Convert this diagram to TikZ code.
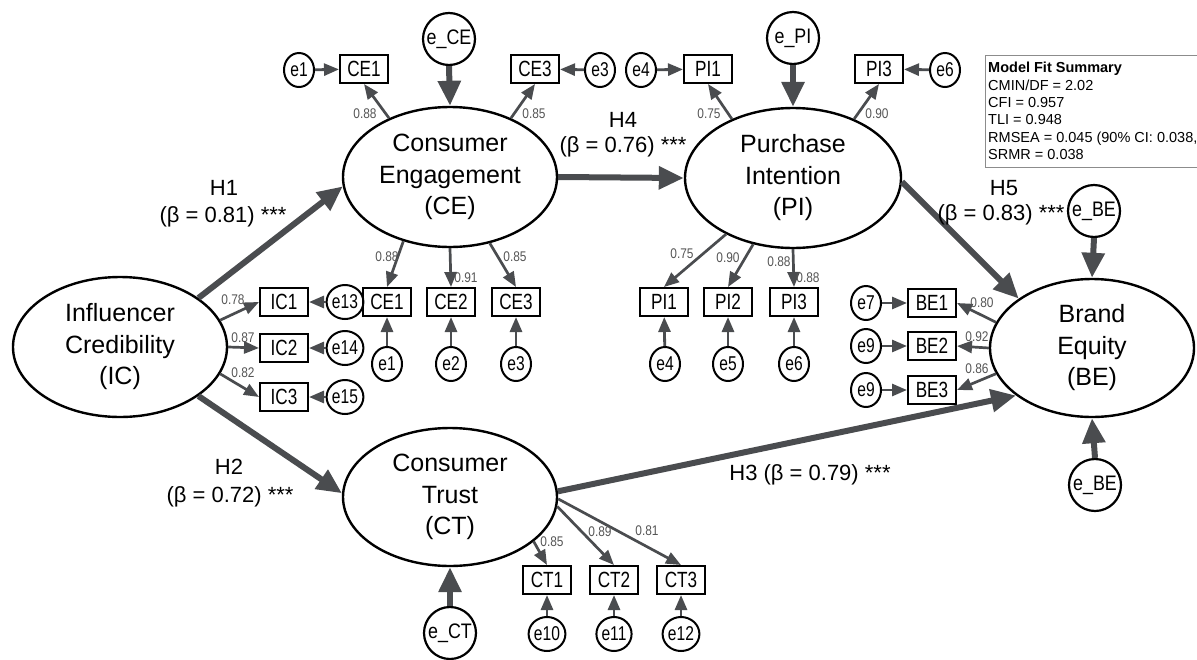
\documentclass[tikz,border=0pt]{standalone}
\usepackage{fontspec}
\setmainfont{Liberation Sans}
\newfontfamily\narrowsans{Liberation Sans}[FakeStretch=0.85]
\newfontfamily\condensedsans{Liberation Sans}[FakeStretch=0.78]
\usetikzlibrary{arrows.meta,shapes.geometric}

\definecolor{arrowgrey}{HTML}{4A4C4F}
\definecolor{labelgrey}{HTML}{555555}
\definecolor{framegrey}{HTML}{8C8C8C}

\tikzset{
  latent/.style={ellipse, draw=black, line width=2.4pt, inner sep=0pt,
    minimum width=214pt, minimum height=140pt, align=center,
    font=\fontsize{25}{31.5}\selectfont},
  indicator/.style={rectangle, draw=black, line width=2pt, inner sep=0pt,
    minimum width=48pt, minimum height=28pt,
    font=\condensedsans\fontsize{22}{22}\selectfont},
  errsmall/.style={ellipse, draw=black, line width=2pt, inner sep=0pt,
    minimum width=30pt, minimum height=34pt,
    font=\condensedsans\fontsize{20}{20}\selectfont},
  errlarge/.style={circle, draw=black, line width=2.2pt, inner sep=0pt,
    minimum size=52pt, font=\narrowsans\fontsize{21}{21}\selectfont},
  structpath/.style={draw=arrowgrey, line width=6pt,
    -{Triangle[length=25pt,width=22pt]}},
  loadpath/.style={draw=arrowgrey, line width=2.7pt,
    -{Triangle[length=15pt,width=12pt]}},
  errpath/.style={draw=arrowgrey, line width=2.8pt,
    -{Triangle[length=15pt,width=12pt]}},
  coef/.style={text=labelgrey, font=\narrowsans\fontsize{14}{14}\selectfont,
    inner sep=0pt},
  hyp/.style={font=\fontsize{22}{22}\selectfont, inner sep=0pt},
}

\begin{document}
\begin{tikzpicture}[x=1pt,y=-1pt]
\useasboundingbox (0,0) rectangle (1197,659);

% latent constructs
\node[latent] (IC) at (120,347) {Influencer\\Credibility\\(IC)};
\node[latent] (CE) at (450,177) {Consumer\\Engagement\\(CE)};
\node[latent, minimum width=216pt] (PI) at (793,178) {Purchase\\Intention\\(PI)};
\node[latent, minimum height=138pt] (CT) at (450,497) {Consumer\\Trust\\(CT)};
\node[latent, minimum width=204pt, minimum height=138pt] (BE) at (1092,348) {Brand\\Equity\\(BE)};

% disturbance terms
\node[errlarge] (eCE) at (449,39) {e\_CE};
\node[errlarge] (ePI) at (793,38) {e\_PI};
\node[errlarge] (eBEt) at (1094,211) {e\_BE};
\node[errlarge] (eBEb) at (1095,485) {e\_BE};
\node[errlarge] (eCT) at (450,633) {e\_CT};

% CE indicators (upper row)
\node[indicator] (CE1t) at (364,69) {CE1};
\node[indicator] (CE3t) at (535,69) {CE3};
\node[errsmall] (e1t) at (299,70) {e1};
\node[errsmall] (e3t) at (600,70) {e3};

% PI indicators (upper row)
\node[indicator] (PI1t) at (708,69) {PI1};
\node[indicator] (PI3t) at (879,69) {PI3};
\node[errsmall] (e4t) at (641,70) {e4};
\node[errsmall] (e6t) at (945,70) {e6};

% CE indicators (lower row)
\node[indicator] (CE1b) at (387,302) {CE1};
\node[indicator] (CE2b) at (451,302) {CE2};
\node[indicator] (CE3b) at (516,302) {CE3};
\node[errsmall] (e1b) at (387,364) {e1};
\node[errsmall] (e2b) at (451,364) {e2};
\node[errsmall] (e3b) at (516,364) {e3};

% IC indicators
\node[indicator] (IC1) at (284,302) {IC1};
\node[indicator] (IC2) at (284,348) {IC2};
\node[indicator] (IC3) at (284,397) {IC3};
\node[errsmall] (e13) at (345,302) {e13};
\node[errsmall] (e14) at (345,348) {e14};
\node[errsmall] (e15) at (345,397) {e15};

% PI indicators (lower row)
\node[indicator] (PI1b) at (664,302) {PI1};
\node[indicator] (PI2b) at (728,302) {PI2};
\node[indicator] (PI3b) at (794,302) {PI3};
\node[errsmall] (e4b) at (665,364) {e4};
\node[errsmall] (e5b) at (728,364) {e5};
\node[errsmall] (e6b) at (794,364) {e6};

% BE indicators
\node[indicator] (BE1) at (932,303) {BE1};
\node[indicator] (BE2) at (932,346) {BE2};
\node[indicator] (BE3) at (932,390) {BE3};
\node[errsmall] (e7) at (866,303) {e7};
\node[errsmall] (e9a) at (866,346) {e9};
\node[errsmall] (e9b) at (866,390) {e9};

% CT indicators
\node[indicator] (CT1) at (547,580) {CT1};
\node[indicator] (CT2) at (614,580) {CT2};
\node[indicator] (CT3) at (681,580) {CT3};
\node[errsmall] (e10) at (547,634) {e10};
\node[errsmall] (e11) at (614,634) {e11};
\node[errsmall] (e12) at (681,634) {e12};

% structural paths
\draw[structpath] (IC.32) -- (CE.185);
\draw[structpath] (IC.-32) -- (CT.178);
\draw[structpath] (CE.east) -- (PI.west);
\draw[structpath] (PI.-2) -- (BE.146);
\draw[structpath] (CT.3) -- (BE.212);

% disturbances
\draw[structpath] (eCE.south) -- (CE.north);
\draw[structpath] (ePI.south) -- (PI.north);
\draw[structpath] (eBEt.south) -- (BE.north);
\draw[structpath] (eBEb.north) -- (BE.south);
\draw[structpath] (eCT.north) -- (CT.south);

% loadings
\draw[loadpath] (CE.136) -- (CE1t.south);
\draw[loadpath] (CE.44) -- (CE3t.south);
\draw[loadpath] (PI.136) -- (PI1t.south);
\draw[loadpath] (PI.44) -- (PI3t.south);
\draw[loadpath] (CE.-126) -- (CE1b.north);
\draw[loadpath] (CE.south) -- (CE2b.north);
\draw[loadpath] (CE.-59) -- (CE3b.north);
\draw[loadpath] (IC.15) -- (IC1.west);
\draw[loadpath] (IC.east) -- (IC2.west);
\draw[loadpath] (IC.-15) -- (IC3.west);
\draw[loadpath] (PI.-140) -- (PI1b.north);
\draw[loadpath] (PI.-121) -- (PI2b.north);
\draw[loadpath] (PI.south) -- (PI3b.north);
\draw[loadpath] (BE.165) -- (BE1.east);
\draw[loadpath] (BE.west) -- (BE2.east);
\draw[loadpath] (BE.-165) -- (BE3.east);
\draw[loadpath] (CT.-28) -- (CT1.north);
\draw[loadpath] (CT.-5) -- (CT2.north);
\draw[loadpath] (CT.-1) -- (CT3.north);

% measurement errors
\draw[errpath] (e1t) -- (CE1t);
\draw[errpath] (e3t) -- (CE3t);
\draw[errpath] (e4t) -- (PI1t);
\draw[errpath] (e6t) -- (PI3t);
\draw[errpath] (e1b) -- (CE1b);
\draw[errpath] (e2b) -- (CE2b);
\draw[errpath] (e3b) -- (CE3b);
\draw[errpath] (e13) -- (IC1);
\draw[errpath] (e14) -- (IC2);
\draw[errpath] (e15) -- (IC3);
\draw[errpath] (e4b) -- (PI1b);
\draw[errpath] (e5b) -- (PI2b);
\draw[errpath] (e6b) -- (PI3b);
\draw[errpath] (e7) -- (BE1);
\draw[errpath] (e9a) -- (BE2);
\draw[errpath] (e9b) -- (BE3);
\draw[errpath] (e10) -- (CT1);
\draw[errpath] (e11) -- (CT2);
\draw[errpath] (e12) -- (CT3);

% loading coefficients
\node[coef] (lCE1t) at (365,114) {0.88};
\node[coef] (lCE3t) at (534,114) {0.85};
\node[coef] (lPI1t) at (709,114) {0.75};
\node[coef] (lPI3t) at (877,114) {0.90};
\node[coef] (lCE1b) at (387,257) {0.88};
\node[coef] (lCE2b) at (466,278) {0.91};
\node[coef] (lCE3b) at (515,257) {0.85};
\node[coef] (lPI1b) at (682,254) {0.75};
\node[coef] (lPI2b) at (728,258) {0.90};
\node[coef] (lPI3b) at (779,262) {0.88};
\node[coef] (lPI3c) at (808,278) {0.88};
\node[coef] (lIC1) at (233,300) {0.78};
\node[coef] (lIC2) at (243,338) {0.87};
\node[coef] (lIC3) at (243,373) {0.82};
\node[coef] (lBE1) at (982,303) {0.80};
\node[coef] (lBE2) at (977,337) {0.92};
\node[coef] (lBE3) at (977,369) {0.86};
\node[coef] (lCT1) at (552,542) {0.85};
\node[coef] (lCT2) at (600,532) {0.89};
\node[coef] (lCT3) at (647,531) {0.81};

% hypothesis labels
\node[hyp] (h1a) at (224,188) {H1};
\node[hyp] (h1b) at (223,217) {(β = 0.81) ***};
\node[hyp] (h2a) at (229,467) {H2};
\node[hyp] (h2b) at (230,497) {(β = 0.72) ***};
\node[hyp] (h4a) at (623,120) {H4};
\node[hyp] (h4b) at (623,147) {(β = 0.76) ***};
\node[hyp] (h5a) at (1004,188) {H5};
\node[hyp] (h5b) at (1001,215) {(β = 0.83) ***};
\node[hyp] (h3) at (810,475) {H3 (β = 0.79) ***};

% model fit summary
\node[draw=framegrey, line width=1.2pt, anchor=north west, inner sep=0pt,
      minimum width=240pt, minimum height=112pt] (fitbox) at (985,55) {};
\node[anchor=north west, align=left, inner sep=0pt,
      font=\fontsize{14.5}{17.4}\selectfont] (fittext) at (988,62)
  {\textbf{Model Fit Summary}\\CMIN/DF = 2.02\\CFI = 0.957\\TLI = 0.948\\RMSEA = 0.045 (90\% CI: 0.038,\\SRMR = 0.038};
\end{tikzpicture}
\end{document}
